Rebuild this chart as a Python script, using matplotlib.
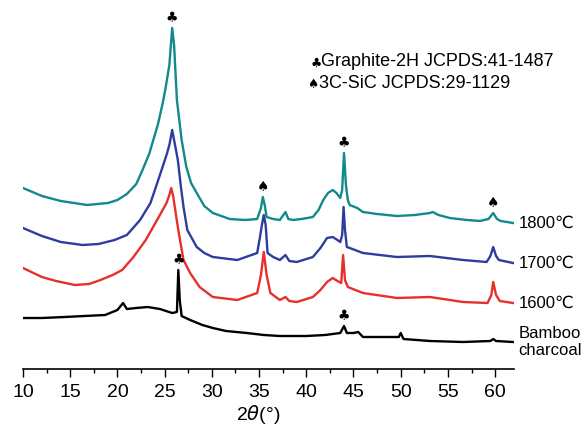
import matplotlib
matplotlib.use("Agg")
import matplotlib.pyplot as plt
import numpy as np

# 2theta positions and intensities (a.u.), curves already stacked
x_1800 = [10, 12, 14, 16.8, 19, 20, 21, 22, 22.7, 23.4, 23.8, 24.3, 24.8, 25.1, 25.5,
          25.8, 26.0, 26.3, 26.8, 27.3, 27.8, 28.4, 29.2, 30.1, 31.9, 33.5, 34.8, 35.2,
          35.4, 35.6, 35.8, 36.5, 37.2, 37.8, 38.1, 38.6, 39.5, 40.7, 41.3, 41.8, 42.3,
          42.8, 43.2, 43.6, 43.8, 44.0, 44.2, 44.4, 44.6, 45.4, 46, 47.5, 49.6, 51.5,
          53.1, 53.4, 54, 55.2, 57, 58.4, 59.3, 59.8, 60.2, 60.6, 61.9]
y_1800 = [181, 173, 168, 164, 166, 169, 175, 185, 200, 216, 229, 245, 266, 281, 304,
          341, 324, 269, 229, 202, 186, 176, 163, 156, 150, 149, 150, 161,
          172, 164, 152, 150, 149, 157, 150, 149, 150, 152, 159, 169, 176,
          179, 176, 171, 179, 216, 184, 169, 164, 161, 157, 155, 153, 154,
          156, 157, 154, 151, 149, 148, 150, 156, 150, 148, 146]

x_1700 = [10, 12, 14, 16.3, 18, 19.7, 21, 22.4, 23.5, 24.5, 25.2, 25.5, 25.8, 26.1,
          26.4, 26.7, 27.0, 27.4, 28.4, 29.2, 30.1, 32.7, 34.8, 35.1, 35.3, 35.5, 35.7,
          35.9, 36.5, 37.2, 37.8, 38.2, 39, 40.7, 41.5, 42.2, 42.8, 43.3, 43.6, 43.8,
          43.95, 44.1, 44.3, 44.6, 46, 49.6, 53.1, 56.6, 59.1, 59.5, 59.8, 60.1, 60.4, 61.9]
y_1700 = [141, 133, 127, 124, 125, 129, 134, 149, 166, 194, 214, 224, 239, 224,
          209, 184, 162, 139, 122, 116, 112, 109, 116, 132, 144, 154, 144,
          116, 112, 109, 114, 108, 107, 112, 121, 131, 132, 129, 127, 134,
          162, 139, 122, 121, 116, 112, 113, 109, 107, 113, 122, 113, 109, 106]

x_1600 = [10, 12, 13.5, 15.5, 17, 18.2, 19.5, 20.5, 21.7, 23, 24.2, 25.2, 25.5, 25.7,
          25.9, 26.2, 26.5, 27, 27.7, 28.7, 30.1, 32.7, 34.8, 35.2, 35.5, 35.8, 36.2,
          37.2, 37.8, 38.2, 39, 40.7, 41.5, 42.2, 42.8, 43.3, 43.7, 43.9, 44.1, 44.4,
          46, 49.6, 53.1, 56.6, 59.2, 59.6, 59.8, 60.1, 60.5, 61.9]
y_1600 = [101, 92, 88, 84, 85, 89, 94, 99, 112, 129, 149, 166, 174, 181,
          173, 154, 136, 109, 96, 82, 72, 69, 76, 94, 117, 94, 76,
          69, 72, 68, 67, 72, 79, 87, 91, 88, 86, 114, 89, 82,
          76, 71, 72, 67, 66, 74, 87, 74, 68, 66]

x_bc = [10, 12, 14.4, 16.5, 18.7, 20, 20.6, 21, 22, 23.2, 24.5, 25.8, 26.3, 26.45,
        26.6, 26.8, 27.7, 29, 30.1, 31.5, 33.7, 35.5, 37.2, 40, 42, 43.6, 44, 44.3,
        45, 45.5, 46, 48, 49.8, 50, 50.3, 53.1, 56.6, 59.5, 59.8, 60.1, 61.9]
y_bc = [51, 51, 52, 53, 54, 59, 66, 60, 61, 62, 60, 56, 57, 99,
        69, 53, 49, 44, 41, 38, 36, 34, 33, 33, 34, 36, 43, 36,
        36, 37, 32, 32, 32, 36, 30, 28, 27, 28, 30, 28, 27]

labels = ["1800\u2103", "1700\u2103", "1600\u2103", "Bamboo\ncharcoal"]
colors = ["#12898a", "#2e3c9e", "#e6302b", "black"]

# phase marks: (curve index, peak position, symbol)
club = "\u2663"
spade = "\u2660"
marks = [(0, 25.8, club), (0, 35.4, spade), (0, 44.0, club), (0, 59.8, spade),
         (3, 26.45, club), (3, 44.0, club)]

plt.rcParams["font.family"] = ["Liberation Sans", "DejaVu Sans"]

fig = plt.figure(figsize=(5.87, 4.28), dpi=100)
ax = fig.add_axes([23 / 587, 59 / 428, 491 / 587, 369 / 428])

curves = [(x_1800, y_1800), (x_1700, y_1700), (x_1600, y_1600), (x_bc, y_bc)]
for (xs, ys), c in zip(curves, colors):
    ax.plot(xs, ys, color=c, lw=1.7)

for (xs, ys), lab in zip(curves, labels):
    ax.annotate(lab, (xs[-1], ys[-1]), xytext=(4, 0), textcoords="offset points",
                va="center", ha="left", fontsize=12, linespacing=1.1,
                annotation_clip=False)

for idx, pos, sym in marks:
    xs, ys = curves[idx]
    xs = np.array(xs)
    ys = np.array(ys)
    near = np.abs(xs - pos) < 0.3
    top = ys[near].max()
    ax.annotate(sym, (pos, top), xytext=(0, 2), textcoords="offset points",
                ha="center", va="bottom", fontsize=10, family="DejaVu Sans",
                annotation_clip=False)

ax.set_xlim(10, 62)
ax.set_ylim(0, 369)
ax.set_xticks(np.arange(10, 61, 5))
ax.set_xticks(np.arange(12.5, 62, 5), minor=True)
ax.tick_params(axis="x", which="major", length=6, width=1, labelsize=14, pad=5)
ax.tick_params(axis="x", which="minor", length=3, width=1)
ax.set_yticks([])
for s in ["left", "top", "right"]:
    ax.spines[s].set_visible(False)
ax.spines["bottom"].set_linewidth(1.2)

fig.text(258 / 587, 1 - 415 / 428, "2$\\theta$(°)", fontsize=14, ha="center", va="center")

fig.text(316 / 587, 1 - 63 / 428, club, fontsize=9, family="DejaVu Sans", ha="center", va="center")
fig.text(321 / 587, 1 - 62 / 428, "Graphite-2H JCPDS:41-1487", fontsize=13, ha="left", va="center")
fig.text(313 / 587, 1 - 85 / 428, spade, fontsize=9, family="DejaVu Sans", ha="center", va="center")
fig.text(319 / 587, 1 - 84 / 428, "3C-SiC JCPDS:29-1129", fontsize=13, ha="left", va="center")

fig.savefig("out.png", dpi=100)
